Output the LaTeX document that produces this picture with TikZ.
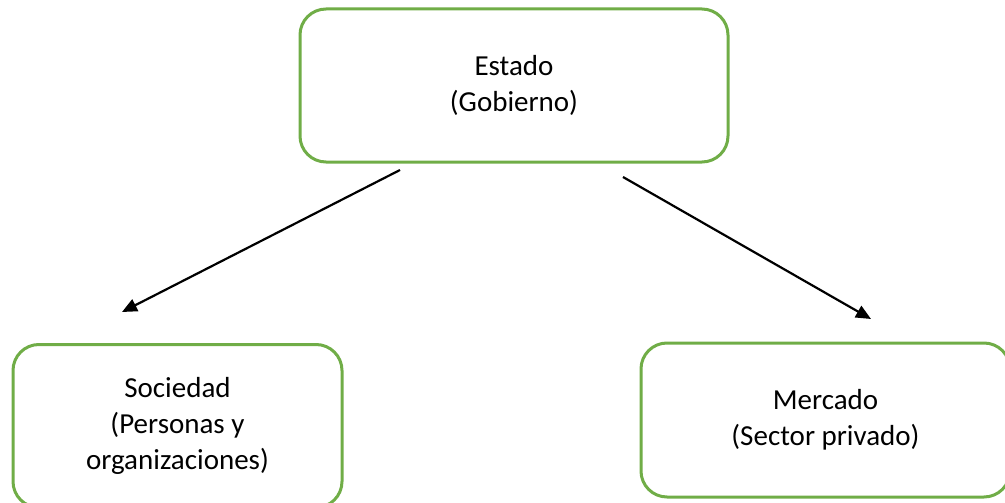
\documentclass[tikz,border=0pt]{standalone}
\usepackage{fontspec}
\setmainfont{Carlito}
\usetikzlibrary{arrows.meta}
\definecolor{boxgreen}{RGB}{112,173,71}
\tikzset{
  gbox/.style={draw=boxgreen, line width=3pt, rounded corners=26pt, align=center,
    font=\fontsize{29}{36}\selectfont, inner sep=0pt},
  arr/.style={line width=2.2pt, -{Triangle[length=15pt,width=13pt]}}
}
\begin{document}
\begin{tikzpicture}[x=1pt,y=-1pt]
\useasboundingbox (0,0) rectangle (1005,503);
\node[gbox, minimum width=428pt, minimum height=153pt] (estado) at (514,85.5) {Estado\\(Gobierno)};
\node[gbox, minimum width=329pt, minimum height=163pt] (sociedad) at (177.5,426) {Sociedad\\ (Personas y\\organizaciones)};
\node[gbox, minimum width=369pt, minimum height=154pt] (mercado) at (825.5,420) {Mercado\\(Sector privado)};
\coordinate (s1) at (400,170);
\coordinate (e1) at (122,312);
\coordinate (s2) at (623,177);
\coordinate (e2) at (871,319);
\draw[arr] (s1) -- (e1);
\draw[arr] (s2) -- (e2);
\end{tikzpicture}
\end{document}
